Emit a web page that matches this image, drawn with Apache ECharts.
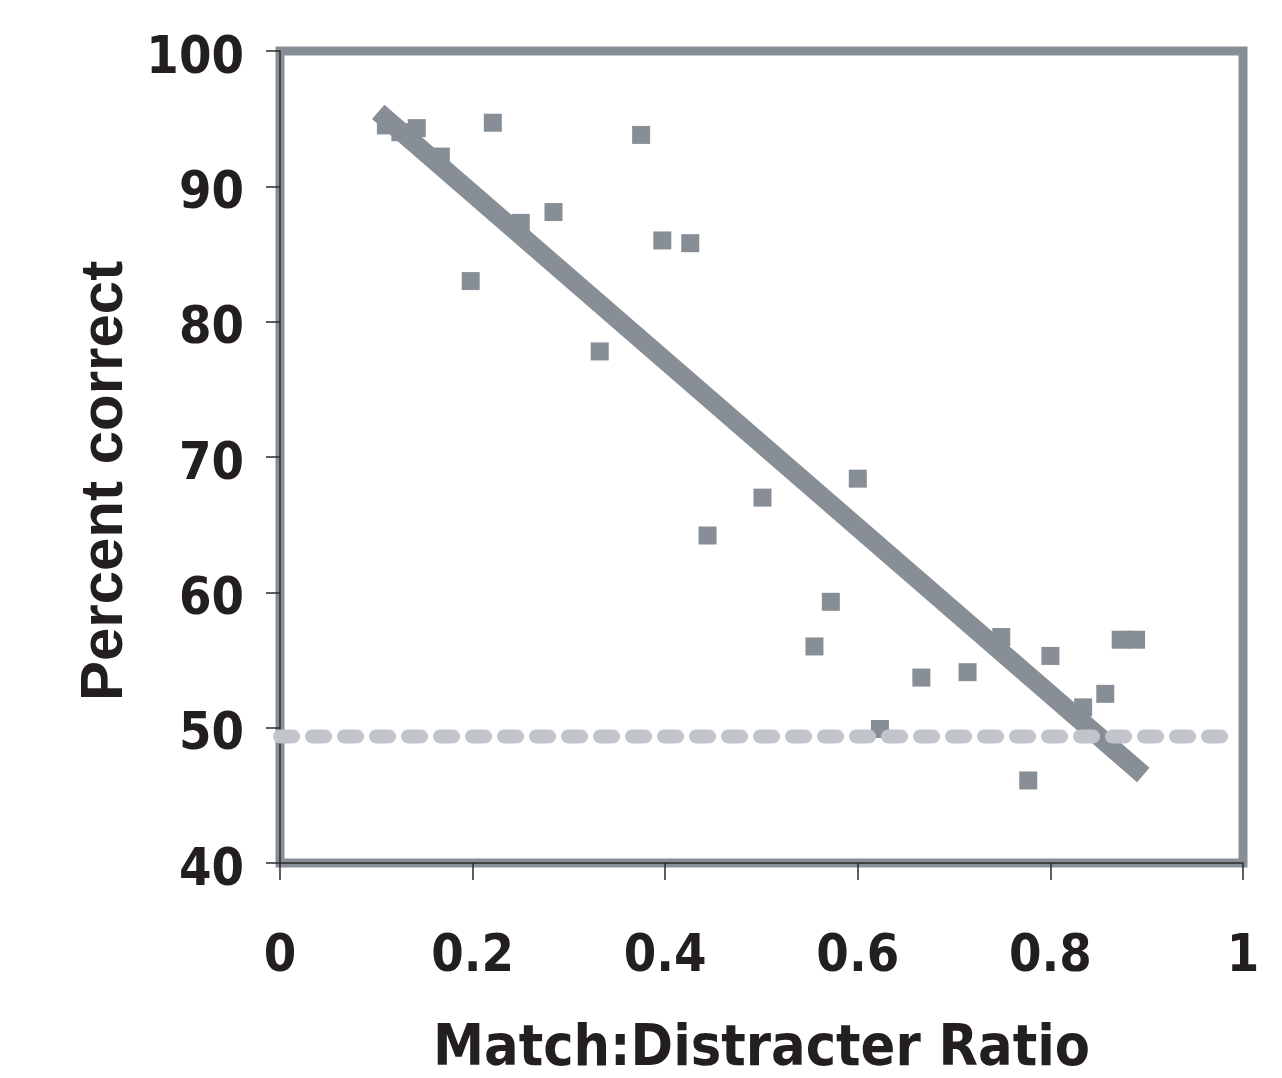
<!DOCTYPE html>
<html>
<head>
<meta charset="utf-8">
<script src="https://cdn.jsdelivr.net/npm/echarts@6/dist/echarts.min.js"></script>
<style>
html,body{margin:0;padding:0;background:#fff;}
#chart{width:1282px;height:1078px;}
</style>
</head>
<body>
<div id="chart"></div>
<script>
// Data
const ratio = [0.110, 0.125, 0.142, 0.167, 0.198, 0.221, 0.250, 0.284, 0.332, 0.375, 0.397, 0.426, 0.444, 0.501, 0.555, 0.572, 0.600, 0.623, 0.666, 0.714, 0.749, 0.777, 0.800, 0.834, 0.857, 0.873, 0.889];
const percentCorrect = [94.5, 94.0, 94.3, 92.2, 83.0, 94.7, 87.3, 88.1, 77.8, 93.8, 86.0, 85.8, 64.2, 67.0, 56.0, 59.3, 68.4, 49.9, 53.7, 54.1, 56.7, 46.1, 55.3, 51.5, 52.5, 56.5, 56.5];
const fitX = [0.102, 0.8965];
const fitY = [95.5, 46.5];
const chanceX = [0, 0.986];
const chanceY = [49.35, 49.35];
const xTicks = [0, 0.2, 0.4, 0.6, 0.8, 1];
const yTicks = [40, 50, 60, 70, 80, 90, 100];

const dark = '#878e95';
const light = '#c1c4cb';
const textColor = '#231f20';
const narrow = "'Noto Sans Condensed', 'Liberation Sans Narrow', 'DejaVu Sans Condensed', sans-serif";

const chart = echarts.init(document.getElementById('chart'), null, {renderer: 'canvas'});
chart.setOption({
  animation: false,
  backgroundColor: '#ffffff',
  grid: {
    left: 280, right: 39, top: 51, bottom: 215,
    outerBoundsMode: 'none',
    containLabel: false,
    show: true, borderColor: dark, borderWidth: 9, backgroundColor: 'transparent'
  },
  xAxis: {
    type: 'value',
    min: xTicks[0], max: xTicks[xTicks.length - 1], interval: xTicks[1] - xTicks[0],
    name: 'Match:Distracter Ratio',
    nameLocation: 'middle',
    nameGap: 159,
    nameTextStyle: {fontFamily: narrow, fontWeight: 'bold', fontSize: 57, color: textColor},
    axisLine: {show: true, lineStyle: {color: '#2a2a2a', width: 1.5}},
    axisTick: {show: true, length: 17, lineStyle: {color: '#2a2a2a', width: 1.5}},
    axisLabel: {margin: 68, fontFamily: narrow, fontWeight: 'bold', fontSize: 52, color: textColor},
    splitLine: {show: false}
  },
  yAxis: {
    type: 'value',
    min: yTicks[0], max: yTicks[yTicks.length - 1], interval: yTicks[1] - yTicks[0],
    name: 'Percent correct',
    nameLocation: 'middle',
    nameGap: 115,
    nameRotate: 90,
    nameTextStyle: {fontFamily: "'Liberation Sans', Arial, sans-serif", fontWeight: 'bold', fontSize: 60, color: textColor, padding: [0, 48, 0, 0]},
    axisLine: {show: true, lineStyle: {color: '#2a2a2a', width: 1.5}},
    axisTick: {show: true, length: 14, lineStyle: {color: '#2a2a2a', width: 1.5}},
    axisLabel: {
      margin: 36,
      formatter: '{a|{value}}',
      rich: {a: {fontFamily: narrow, fontWeight: 'bold', fontSize: 52, color: textColor, padding: [16, 0, 0, 0]}},
      fontFamily: narrow, fontWeight: 'bold', fontSize: 52, color: textColor
    },
    splitLine: {show: false}
  },
  series: [
    {
      type: 'scatter',
      data: ratio.map((x, i) => [x, percentCorrect[i]]),
      symbol: 'rect',
      symbolSize: 18,
      itemStyle: {color: dark, opacity: 1},
      z: 2
    },
    {
      type: 'line',
      data: fitX.map((x, i) => [x, fitY[i]]),
      symbol: 'none',
      lineStyle: {color: dark, width: 19, cap: 'butt'},
      z: 3
    },
    {
      type: 'line',
      data: chanceX.map((x, i) => [x, chanceY[i]]),
      symbol: 'none',
      lineStyle: {color: light, width: 14, type: [13, 19], cap: 'round'},
      z: 4
    }
  ]
});
</script>
</body>
</html>
